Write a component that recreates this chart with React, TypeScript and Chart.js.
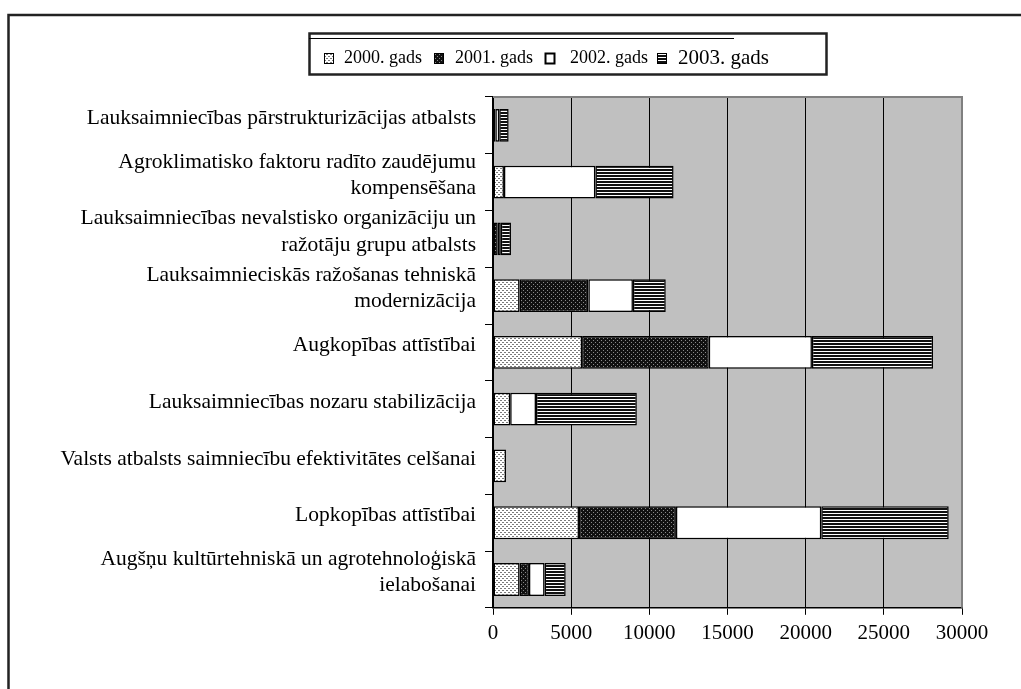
import React, { useEffect, useRef } from 'react';
import { Chart, registerables } from 'chart.js';

Chart.register(...registerables);

const categories: string[][] = [
  ['Lauksaimniecības pārstrukturizācijas atbalsts'],
  ['Agroklimatisko faktoru radīto zaudējumu', 'kompensēšana'],
  ['Lauksaimniecības nevalstisko organizāciju un', 'ražotāju grupu atbalsts'],
  ['Lauksaimnieciskās ražošanas tehniskā', 'modernizācija'],
  ['Augkopības attīstībai'],
  ['Lauksaimniecības nozaru stabilizācija'],
  ['Valsts atbalsts saimniecību efektivitātes celšanai'],
  ['Lopkopības attīstībai'],
  ['Augšņu kultūrtehniskā un agrotehnoloģiskā', 'ielabošanai'],
];

const seriesLabels = ['2000. gads', '2001. gads', '2002. gads', '2003. gads'];

const values2000 = [150, 700, 0, 1700, 5700, 1100, 830, 5500, 1700];
const values2001 = [0, 0, 300, 4400, 8100, 0, 0, 6200, 600];
const values2002 = [250, 5850, 200, 2850, 6600, 1650, 0, 9300, 1000];
const values2003 = [600, 5000, 650, 2100, 7750, 6450, 0, 8150, 1350];

const xMin = 0;
const xMax = 30000;
const xStep = 5000;

const FONT = "'Liberation Serif', 'Times New Roman', serif";

function makePattern(ctx: CanvasRenderingContext2D, kind: string): CanvasPattern | string {
  const c = document.createElement('canvas');
  const t = c.getContext('2d')!;
  if (kind === 'light') {
    c.width = 4; c.height = 4;
    t.fillStyle = '#ffffff'; t.fillRect(0, 0, 4, 4);
    t.fillStyle = '#7a7a7a';
    t.fillRect(0, 0, 2, 1);
    t.fillRect(2, 2, 2, 1);
  } else if (kind === 'dark') {
    c.width = 4; c.height = 4;
    t.fillStyle = '#111111'; t.fillRect(0, 0, 4, 4);
    t.fillStyle = '#8a8a8a';
    t.fillRect(1, 0, 1, 1);
    t.fillRect(3, 2, 1, 1);
  } else if (kind === 'stripes') {
    c.width = 4; c.height = 3;
    t.fillStyle = '#111111'; t.fillRect(0, 0, 4, 3);
    t.fillStyle = '#ffffff'; t.fillRect(0, 0, 4, 1);
  } else {
    return '#ffffff';
  }
  return ctx.createPattern(c, 'repeat') || '#888';
}

const decorPlugin = {
  id: 'decor',
  beforeDraw(chart: any) {
    const { ctx, chartArea } = chart;
    ctx.save();
    ctx.fillStyle = '#c0c0c0';
    ctx.fillRect(chartArea.left, chartArea.top, chartArea.right - chartArea.left, chartArea.bottom - chartArea.top);
    ctx.restore();
  },
  afterDraw(chart: any) {
    const { ctx, chartArea } = chart;
    ctx.save();
    // plot area top/right border
    ctx.strokeStyle = '#808080';
    ctx.lineWidth = 2;
    ctx.beginPath();
    ctx.moveTo(chartArea.left, chartArea.top);
    ctx.lineTo(chartArea.right, chartArea.top);
    ctx.lineTo(chartArea.right, chartArea.bottom);
    ctx.stroke();

    // outer frame
    ctx.strokeStyle = '#222222';
    ctx.lineWidth = 2.5;
    ctx.beginPath();
    ctx.moveTo(8.5, 689);
    ctx.lineTo(8.5, 15);
    ctx.lineTo(1021, 15);
    ctx.stroke();

    // legend box
    ctx.strokeStyle = '#222222';
    ctx.lineWidth = 2.5;
    ctx.strokeRect(309.5, 33.5, 517, 41);
    ctx.lineWidth = 1.2;
    ctx.strokeStyle = '#000';
    ctx.beginPath();
    ctx.moveTo(309, 38.5);
    ctx.lineTo(734, 38.5);
    ctx.stroke();

    const iconX = [324, 434, 545, 657];
    const textX = [344, 455, 570, 678];
    const sizes = [18, 18, 18, 21];
    chart.data.datasets.forEach((ds: any, i: number) => {
      ctx.fillStyle = ds.backgroundColor;
      ctx.fillRect(iconX[i], 53, 9, 10);
      ctx.strokeStyle = '#000';
      ctx.lineWidth = i === 2 ? 2 : 1;
      ctx.strokeRect(iconX[i] + 0.5, 53.5, 9, 10);
      ctx.fillStyle = '#000';
      ctx.font = `${sizes[i]}px ${FONT}`;
      ctx.textBaseline = 'alphabetic';
      ctx.textAlign = 'left';
      ctx.fillText(ds.label, textX[i], i === 3 ? 64 : 63);
    });
    ctx.restore();
  },
};

export default function App() {
  const ref = useRef<HTMLCanvasElement | null>(null);

  useEffect(() => {
    const canvas = ref.current!;
    const ctx = canvas.getContext('2d')!;
    const fills = [
      makePattern(ctx, 'light'),
      makePattern(ctx, 'dark'),
      makePattern(ctx, 'white'),
      makePattern(ctx, 'stripes'),
    ];
    const seriesValues = [values2000, values2001, values2002, values2003];
    const chart = new Chart(ctx, {
      type: 'bar',
      data: {
        labels: categories,
        datasets: seriesLabels.map((label, i) => ({
          label,
          data: seriesValues[i],
          backgroundColor: fills[i] as any,
          borderColor: '#000000',
          borderWidth: 1.5,
          borderSkipped: false,
          barPercentage: 0.58,
          categoryPercentage: 1,
        })),
      },
      options: {
        indexAxis: 'y',
        responsive: false,
        animation: false,
        events: [],
        layout: { padding: { left: 0, right: 59, top: 97, bottom: 37 } },
        plugins: {
          legend: { display: false },
          tooltip: { enabled: false },
        },
        scales: {
          x: {
            stacked: true,
            min: xMin,
            max: xMax,
            ticks: {
              stepSize: xStep,
              color: '#000',
              padding: 6,
              font: { family: FONT, size: 21 },
              callback: (v: any) => String(v),
            },
            grid: {
              color: (c: any) => (c.tick && c.tick.value === xMax ? '#808080' : '#000000'),
              lineWidth: 1,
              tickColor: '#000000',
              tickLength: 7,
            },
            border: { color: '#000000', width: 1.5 },
          },
          y: {
            stacked: true,
            afterFit: (scale: any) => {
              scale.width = 493;
            },
            ticks: {
              color: '#000',
              padding: 9,
              labelOffset: -7,
              font: { family: FONT, size: 21.5, lineHeight: 1.22 },
            },
            grid: {
              drawOnChartArea: false,
              color: '#000000',
              tickLength: 8,
              offset: true,
            },
            border: { color: '#000000', width: 1.5 },
          },
        },
      },
      plugins: [decorPlugin],
    });
    return () => chart.destroy();
  }, []);

  return (
    <div style={{ position: 'fixed', left: 0, top: 0, width: 1021, height: 689, background: '#fff' }}>
      <canvas ref={ref} width={1021} height={689} style={{ display: 'block' }} />
    </div>
  );
}
